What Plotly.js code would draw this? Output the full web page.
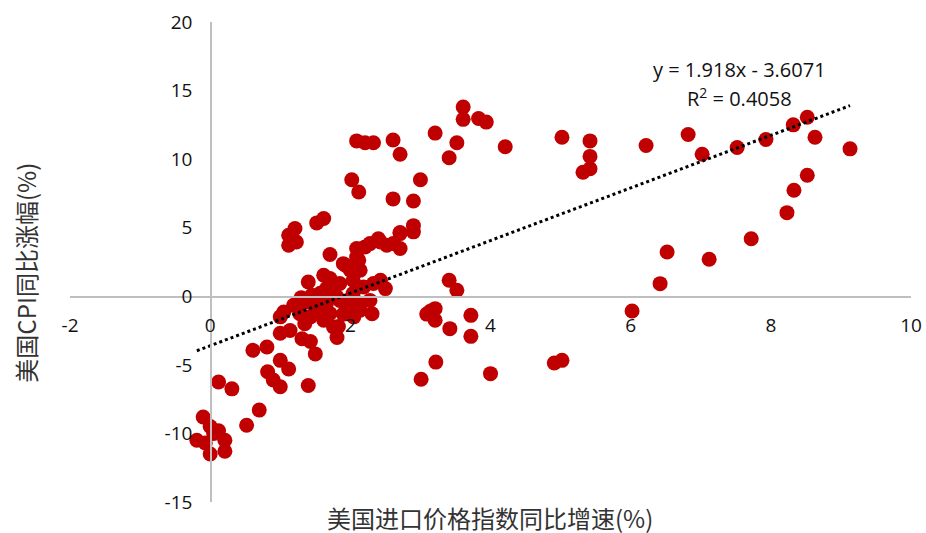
<!DOCTYPE html>
<html>
<head>
<meta charset="utf-8">
<script src="https://cdn.plot.ly/plotly-3.0.1.min.js"></script>
<style>html,body{margin:0;padding:0;background:#fff;}#chart{width:926px;height:533px;}</style>
</head>
<body>
<div id="chart"></div>
<script>
// Import price index YoY (%)
var importPriceYoY = [
  -0.10,-0.19,0.00,0.12,0.21,0.00,0.21,-0.07,0.05,0.52,0.70,0.12,0.31,0.61,0.81,1.00,1.12,0.82,0.90,1.00,1.40,1.50,
  1.00,1.14,1.31,1.43,1.81,1.83,1.62,1.71,1.76,1.00,1.28,1.43,1.05,1.19,1.38,1.55,1.81,1.95,2.14,2.31,2.05,2.14,2.28,1.85,1.66,1.50,
  2.04,2.19,2.33,2.50,1.40,1.62,1.71,1.85,2.04,1.66,1.45,1.57,2.00,1.93,2.12,1.90,2.09,1.71,2.09,2.21,2.28,2.43,2.40,2.52,2.61,2.71,
  2.71,2.90,2.90,2.71,3.41,3.52,1.21,1.12,1.12,1.23,1.52,1.62,2.02,2.12,2.09,2.21,2.33,2.61,2.71,2.61,2.90,3.00,3.21,3.41,3.52,
  3.61,3.61,3.83,3.94,4.21,5.02,5.42,5.42,5.42,5.32,6.22,6.82,7.02,7.52,7.93,8.32,8.52,8.63,9.13,8.52,8.33,8.23,7.72,7.12,6.52,
  6.42,6.02,5.02,4.91,4.00,3.01,3.22,3.72,3.72,3.42,3.09,3.21,3.21,3.14,1.30,1.75,2.00,1.60,1.35,1.90,2.14,2.43
];
// US CPI YoY (%)
var cpiYoY = [
  -8.8,-10.5,-9.5,-9.8,-10.5,-11.5,-11.3,-10.7,-10.0,-9.4,-8.3,-6.25,-6.75,-3.94,-3.7,-4.67,-5.3,-5.5,-6.1,-6.6,-6.5,-4.2,
  -2.7,-2.5,-3.1,-3.3,-3.0,-2.2,-1.75,-1.25,-2.24,-1.5,-1.27,-1.5,-1.15,-0.66,-0.42,-0.05,-0.05,-0.78,-1.02,-1.27,-1.5,-0.5,-0.3,-0.3,-0.5,-0.8,
  0.2,0.68,0.93,0.56,1.04,1.53,1.3,0.93,1.17,0.56,0.07,0.22,1.9,2.26,2.63,2.38,2.87,3.05,3.48,3.6,3.84,3.96,4.2,3.72,3.84,3.48,
  4.57,4.7,5.15,4.65,1.17,0.44,4.94,4.45,3.72,3.96,5.35,5.67,8.5,7.6,11.33,11.2,11.2,11.4,10.36,7.1,6.95,8.5,11.9,10.1,11.2,
  13.8,12.9,12.96,12.7,10.9,11.6,11.33,10.2,9.3,9.04,11.0,11.8,10.36,10.85,11.43,12.5,13.05,11.6,10.75,8.83,7.73,6.1,4.2,2.7,3.23,
  0.92,-1.07,-4.67,-4.86,-5.64,-6.05,-4.8,-1.39,-2.92,-2.36,-1.3,-0.9,-1.75,-1.1,-0.1,0.1,-0.2,-1.1,-2.0,-1.3,1.9,1.17
];
var trendSlope = 1.918;
var trendIntercept = -3.6071;
var rSquared = 0.4058;
var xTicks = [-2,0,2,4,6,8,10];
var yTicks = [-15,-10,-5,0,5,10,15,20];
var xTitle = '美国进口价格指数同比增速(%)';
var yTitle = '美国CPI同比涨幅(%)';

var xMin = Math.min.apply(null, importPriceYoY);
var xMax = Math.max.apply(null, importPriceYoY);
var trendX = [xMin, xMax];
var trendY = trendX.map(function(v){ return trendSlope * v + trendIntercept; });

var xr = [-2, 10], yr = [-15, 20];
var numFont = 'Open Sans, Noto Sans, sans-serif';
var cjkFont = 'Noto Sans CJK SC, sans-serif';

var data = [
  {
    type: 'scatter', mode: 'markers',
    x: importPriceYoY, y: cpiYoY,
    marker: {color: '#c00000', size: 15, line: {width: 0}},
    hoverinfo: 'x+y', showlegend: false
  },
  {
    type: 'scatter', mode: 'lines',
    x: trendX, y: trendY,
    line: {color: '#000000', width: 3, dash: 'dot'},
    hoverinfo: 'skip', showlegend: false
  }
];

var layout = {
  width: 926, height: 533,
  margin: {l: 70, r: 15, t: 22, b: 31},
  paper_bgcolor: '#ffffff', plot_bgcolor: '#ffffff',
  showlegend: false,
  xaxis: {
    range: xr, tickmode: 'array', tickvals: xTicks, ticktext: xTicks.map(String),
    showgrid: false, zeroline: false,
    showline: true, linecolor: '#bfbfbf', linewidth: 1.5,
    anchor: 'free', position: (0 - yr[0]) / (yr[1] - yr[0]),
    ticks: '', ticklabelstandoff: 11,
    tickfont: {family: numFont, size: 19, color: '#111111'}
  },
  yaxis: {
    range: yr, tickmode: 'array', tickvals: yTicks, ticktext: yTicks.map(String),
    showgrid: false, zeroline: false,
    showline: true, linecolor: '#bfbfbf', linewidth: 1.5,
    anchor: 'free', position: (0 - xr[0]) / (xr[1] - xr[0]),
    ticks: '', ticklabelstandoff: 14,
    tickfont: {family: numFont, size: 19, color: '#111111'}
  },
  annotations: [
    {xref: 'paper', yref: 'paper', x: -0.054, y: 0.477, text: yTitle, textangle: -90,
     showarrow: false, xanchor: 'center', yanchor: 'middle',
     font: {family: cjkFont, size: 24, color: '#333333'}},
    {xref: 'paper', yref: 'paper', x: 0.4994, y: -0.033, text: xTitle,
     showarrow: false, xanchor: 'center', yanchor: 'middle',
     font: {family: cjkFont, size: 24, color: '#333333'}},
    {xref: 'paper', yref: 'paper', x: 0.7955, y: 0.90,
     text: 'y = ' + trendSlope + 'x - ' + Math.abs(trendIntercept),
     showarrow: false, xanchor: 'center', yanchor: 'middle',
     font: {family: numFont, size: 20, color: '#111111'}},
    {xref: 'paper', yref: 'paper', x: 0.7955, y: 0.8423,
     text: 'R<sup>2</sup> = ' + rSquared,
     showarrow: false, xanchor: 'center', yanchor: 'middle',
     font: {family: numFont, size: 20, color: '#111111'}}
  ]
};

Plotly.newPlot('chart', data, layout, {staticPlot: true, displayModeBar: false});
</script>
</body>
</html>
